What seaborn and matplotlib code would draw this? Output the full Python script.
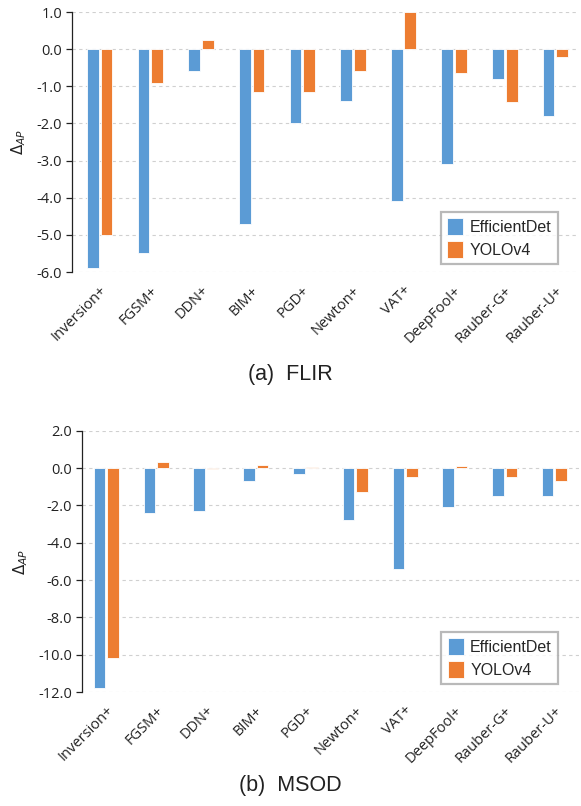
import matplotlib
matplotlib.use("Agg")
import matplotlib.pyplot as plt
import seaborn as sns
import pandas as pd

categories = ["Inversion+", "FGSM+", "DDN+", "BIM+", "PGD+", "Newton+", "VAT+",
              "DeepFool+", "Rauber-G+", "Rauber-U+"]
models = ["EfficientDet", "YOLOv4"]

flir_efficientdet = [-5.9, -5.5, -0.6, -4.7, -2.0, -1.4, -4.1, -3.1, -0.8, -1.8]
flir_yolov4 = [-5.0, -0.9, 0.25, -1.15, -1.15, -0.58, 1.0, -0.65, -1.43, -0.2]

msod_efficientdet = [-11.8, -2.4, -2.3, -0.7, -0.3, -2.8, -5.4, -2.1, -1.5, -1.5]
msod_yolov4 = [-10.2, 0.3, -0.05, 0.15, 0.03, -1.3, -0.5, 0.1, -0.5, -0.7]

flir_ticks = [1.0, 0.0, -1.0, -2.0, -3.0, -4.0, -5.0, -6.0]
msod_ticks = [2.0, 0.0, -2.0, -4.0, -6.0, -8.0, -10.0, -12.0]

sns.set_theme(style="white")
plt.rcParams["font.family"] = ["Open Sans", "DejaVu Sans"]

palette = {"EfficientDet": "#5B9BD5", "YOLOv4": "#ED7D31"}


def make_df(a, b):
    return pd.DataFrame({
        "attack": categories * 2,
        "model": [models[0]] * len(categories) + [models[1]] * len(categories),
        "value": list(a) + list(b),
    })


fig = plt.figure(figsize=(5.81, 8.06), dpi=100)
ax1 = fig.add_axes([0.124, 0.6625, 0.873, 0.3226])
ax2 = fig.add_axes([0.141, 0.1414, 0.856, 0.3242])


def style(ax, df, ticks, ylim, xlim):
    sns.barplot(data=df, x="attack", y="value", hue="model", palette=palette,
                width=0.54, gap=0.14, ax=ax, edgecolor="white", linewidth=0.6,
                saturation=1)
    ax.set_ylim(*ylim)
    ax.set_xlim(*xlim)
    ax.set_yticks(ticks)
    ax.set_yticklabels([f"{t:.1f}" for t in ticks], fontsize=10.5)
    ax.yaxis.grid(True, linestyle=(0, (3, 3)), color="#d0d0d0", linewidth=0.8)
    ax.set_axisbelow(True)
    for s in ["top", "right", "bottom"]:
        ax.spines[s].set_visible(False)
    ax.spines["left"].set_color("#222222")
    ax.spines["left"].set_linewidth(0.9)
    ax.tick_params(axis="y", which="both", left=True, length=4, width=0.9,
                   color="#222222", pad=3, labelcolor="#222222")
    ax.tick_params(axis="x", bottom=False, pad=2, labelcolor="#222222")
    ax.set_xticks(range(len(categories)))
    ax.set_xticklabels(categories, rotation=45, ha="right",
                       rotation_mode="anchor", fontsize=10.5)
    ax.set_xlabel("")
    ax.set_ylabel(r"$\Delta_{AP}$", fontsize=11, color="#222222", labelpad=6)
    leg = ax.legend(loc="lower right", bbox_to_anchor=(0.958, 0.03),
                    prop={"family": ["Liberation Sans", "DejaVu Sans"], "size": 11.5},
                    frameon=True, fancybox=False, shadow=False,
                    handlelength=1.0, handleheight=1.2, handletextpad=0.4,
                    borderpad=0.4, labelspacing=0.4, borderaxespad=0.0)
    leg.get_frame().set_edgecolor("#a8a8a8")
    leg.get_frame().set_linewidth(1.6)


style(ax1, make_df(flir_efficientdet, flir_yolov4), flir_ticks, (-6.0, 1.0), (-0.545, 9.47))
style(ax2, make_df(msod_efficientdet, msod_yolov4), msod_ticks, (-12.0, 2.0), (-0.49, 9.5))

cap_font = ["Liberation Sans", "DejaVu Sans"]
fig.text(0.5, 0.535, "(a)  FLIR", ha="center", va="center", fontsize=15.5,
         color="#222222", family=cap_font)
fig.text(0.5, 0.026, "(b)  MSOD", ha="center", va="center", fontsize=15.5,
         color="#222222", family=cap_font)

fig.savefig("out.png", dpi=100)
